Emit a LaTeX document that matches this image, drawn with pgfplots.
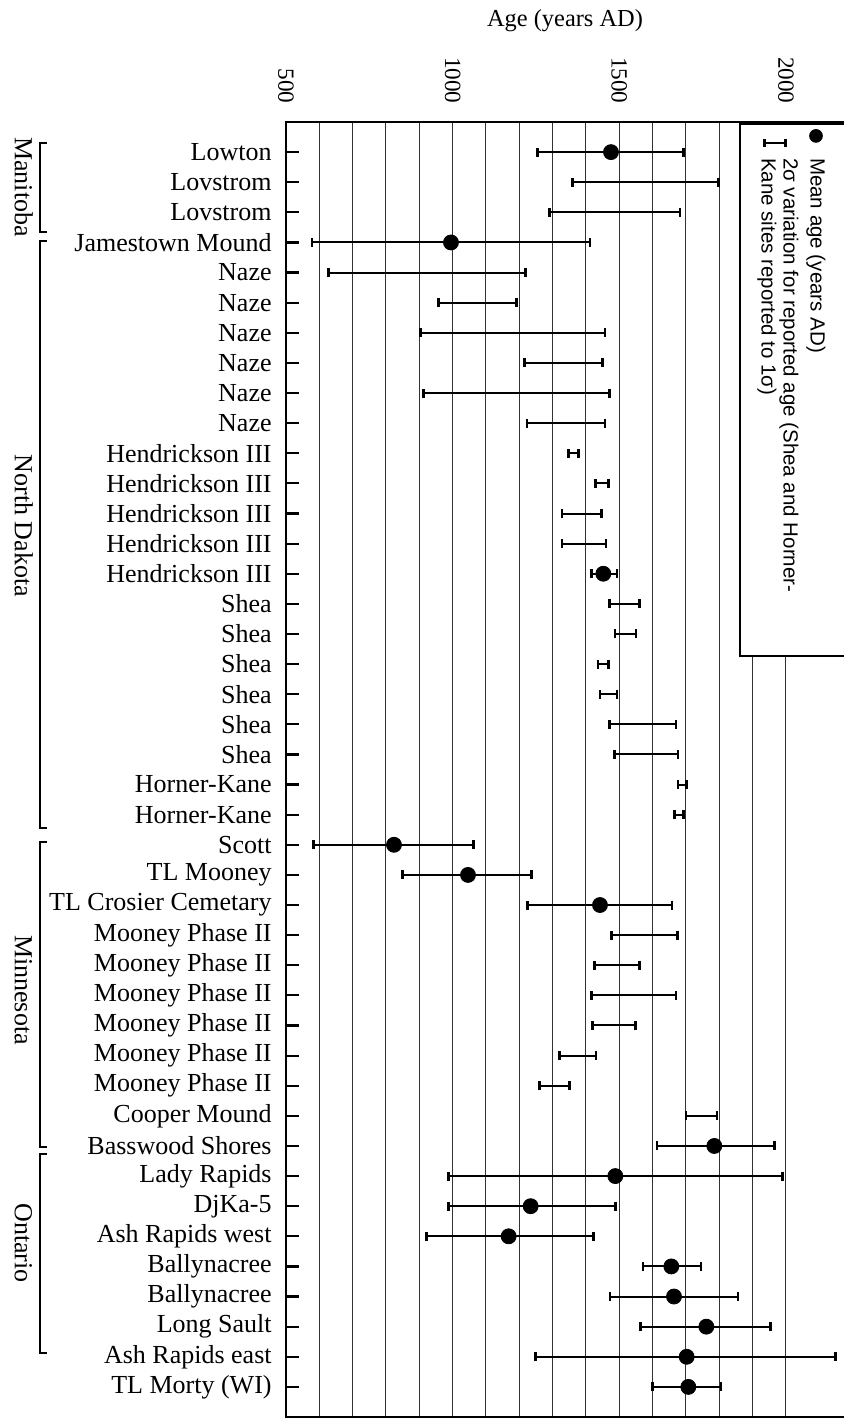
\documentclass[border=0pt]{standalone}
\usepackage{graphicx}
\usepackage{fontspec}
\setmainfont{Liberation Serif}
\newfontfamily\legfont{Liberation Sans}
\usepackage{pgfplots}
\usepackage{pgfplotstable}
\pgfplotsset{compat=1.18}

% 2 sigma range of each date (years AD), one row per site
\pgfplotstableread{
row lo hi
1 1255 1693
2 1360 1798
3 1290 1682
4 578 1412
5 628 1218
6 958 1192
7 903 1457
8 1215 1450
9 913 1470
10 1223 1457
11 1348 1378
12 1428 1468
13 1328 1447
14 1328 1460
15 1416 1493
16 1470 1560
17 1487 1550
18 1436 1468
19 1442 1493
20 1470 1670
21 1485 1676
22 1676 1702
23 1665 1692
24 582 1062
25 850 1237
26 1225 1658
27 1477 1675
28 1425 1560
29 1417 1670
30 1420 1548
31 1320 1430
32 1260 1350
33 1700 1793
34 1613 1965
35 988 1989
36 988 1488
37 922 1423
38 1571 1745
39 1472 1856
40 1564 1954
41 1248 2148
42 1599 1805
}\ranges

% mean ages where reported
\pgfplotstableread{
row mean
1 1475
4 995
15 1452
24 824
25 1046
26 1442
34 1785
35 1488
36 1234
37 1168
38 1656
39 1664
40 1761
41 1702
42 1707
}\means

\begin{document}
% drawn the way the chart was made (sites along x) and turned a quarter turn clockwise
\rotatebox{-90}{%
\begin{tikzpicture}
\path[use as bounding box] (-61pt,-143pt) rectangle (648.5pt,279pt);
\begin{axis}[
  scale only axis,
  width=647.5pt, height=283.33pt,
  xmin=0, xmax=43,
  ymin=500, ymax=2200,
  clip=false,
  axis line style={line width=1.1pt},
  ytick={500,1000,1500,2000},
  minor ytick={600,700,800,900,1100,1200,1300,1400,1600,1700,1800,1900},
  ymajorgrids, yminorgrids,
  grid style={black!80, line width=0.5pt},
  minor grid style={black!80, line width=0.5pt},
  ytick style={draw=none},
  yticklabel style={font=\fontsize{11.6}{13}\selectfont, anchor=east, inner sep=0pt, xshift=-9pt},
  /pgf/number format/assume math mode=true,
  /pgf/number format/1000 sep={},
  xtick={1,...,42},
  xticklabels={Lowton, Lovstrom, Lovstrom, Jamestown Mound, Naze, Naze, Naze, Naze, Naze, Naze,
    Hendrickson III, Hendrickson III, Hendrickson III, Hendrickson III, Hendrickson III,
    Shea, Shea, Shea, Shea, Shea, Shea, Horner-Kane, Horner-Kane, Scott, TL Mooney,
    TL Crosier Cemetary, Mooney Phase II, Mooney Phase II, Mooney Phase II, Mooney Phase II,
    Mooney Phase II, Mooney Phase II, Cooper Mound, Basswood Shores, Lady Rapids, DjKa-5,
    Ash Rapids west, Ballynacree, Ballynacree, Long Sault, Ash Rapids east, TL Morty (WI)},
  xtick pos=left,
  tick align=inside,
  major tick length=6.5pt,
  xtick style={line width=1.1pt, black},
  xticklabel style={font=\fontsize{13}{15}\selectfont, rotate=90, anchor=east, inner sep=0pt},
  xticklabel shift=7pt,
  ylabel={Age (years AD)},
  ylabel style={font=\fontsize{12.2}{14}\selectfont, at={(axis description cs:-0.0741,0.4924)}, anchor=base},
  legend style={at={(axis cs:0.03,1859)}, anchor=south west,
    draw=black, line width=1pt, inner xsep=0pt, inner ysep=7.5pt,
    row sep=2.5pt, column sep=5pt,
    nodes={inner sep=0pt, text depth=, text height=},
    font=\legfont\fontsize{10.25}{11}\selectfont},
  legend cell align=left,
]
\addplot[forget plot, draw=none, mark=none,
  error bars/.cd, y dir=both, y explicit,
  error bar style={line width=1pt, black},
  error mark options={rotate=90, line width=1.3pt, mark size=2.25pt, black}]
  table[x=row, y expr=(\thisrow{lo}+\thisrow{hi})/2,
        y error expr=(\thisrow{hi}-\thisrow{lo})/2] {\ranges};

\addplot[only marks, mark=*, mark size=3.75pt, black,
  legend image code/.code={\path[draw=none] (0pt,-6pt) rectangle (12pt,12pt);
    \draw[mark size=3.2pt, line width=0.4pt] plot coordinates {(6pt,0pt)};}]
  table[x=row, y=mean] {\means};
\addlegendentry{Mean age (years AD)}

\addlegendimage{legend image code/.code={\path[draw=none] (0pt,-6pt) rectangle (12pt,6pt);
    \draw[line width=1pt] (9.5pt,-6.25pt) -- (9.5pt,4.25pt);
    \draw[line width=1.2pt] (7.5pt,-6.25pt) -- (11.5pt,-6.25pt);
    \draw[line width=1.2pt] (7.5pt,4.25pt) -- (11.5pt,4.25pt);}}
\addlegendentry{\begin{tabular}{@{}p{249pt}@{}}2σ variation for reported age (Shea and Horner-\\Kane sites reported to 1σ)\end{tabular}}

% province brackets
\draw[line width=0.7pt] (axis cs:0.70,-217) -- (axis cs:0.70,-238) -- (axis cs:3.65,-238) -- (axis cs:3.65,-217);
\draw[line width=0.7pt] (axis cs:3.95,-217) -- (axis cs:3.95,-238) -- (axis cs:23.44,-238) -- (axis cs:23.44,-217);
\draw[line width=0.7pt] (axis cs:23.91,-217) -- (axis cs:23.91,-238) -- (axis cs:34.04,-238) -- (axis cs:34.04,-217);
\draw[line width=0.7pt] (axis cs:34.27,-217) -- (axis cs:34.27,-238) -- (axis cs:40.88,-238) -- (axis cs:40.88,-217);
\node[anchor=base, font=\fontsize{13}{15}\selectfont] at (axis cs:2.16,-313) {Manitoba};
\node[anchor=base, font=\fontsize{13}{15}\selectfont] at (axis cs:13.41,-313) {North Dakota};
\node[anchor=base, font=\fontsize{13}{15}\selectfont] at (axis cs:28.82,-313) {Minnesota};
\node[anchor=base, font=\fontsize{13}{15}\selectfont] at (axis cs:37.22,-313) {Ontario};
\end{axis}
\end{tikzpicture}}
\end{document}
